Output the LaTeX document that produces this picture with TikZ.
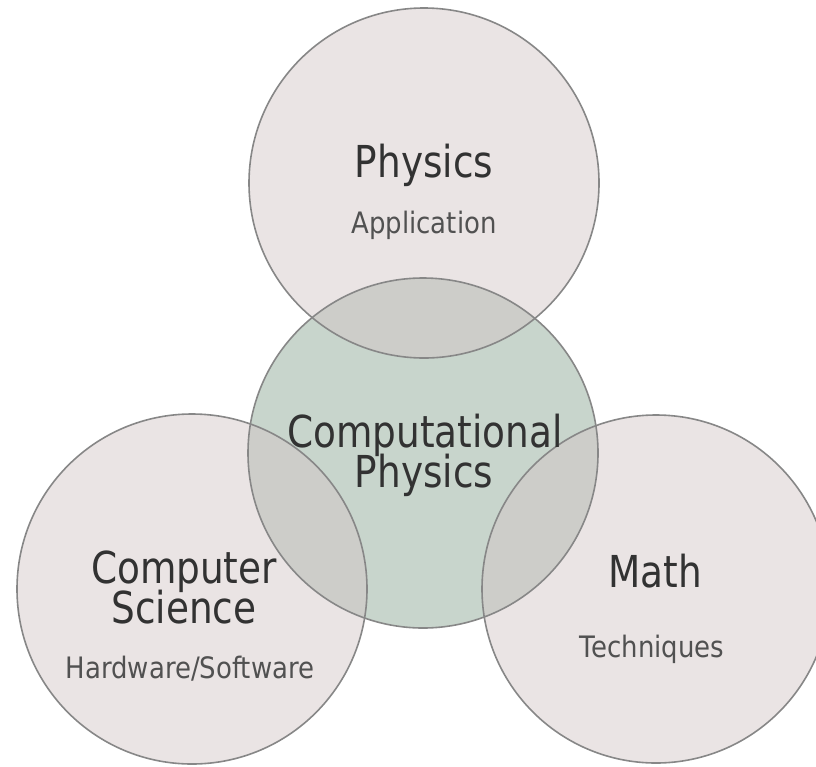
\documentclass[tikz,border=0pt]{standalone}
\usepackage{fontspec}
\newfontfamily\bigfont[FakeStretch=0.85]{DejaVu Sans}
\newfontfamily\smallfont[FakeStretch=0.88]{DejaVu Sans}
\definecolor{pinkfill}{RGB}{234,228,228}
\definecolor{greenfill}{RGB}{200,213,204}
\definecolor{lensfill}{RGB}{205,205,201}
\definecolor{edge}{RGB}{135,135,135}
\definecolor{txt}{RGB}{50,50,50}
\tikzset{
  outline/.style={draw=edge, line width=1.6pt},
  bigtext/.style={anchor=base, inner sep=0pt, text=txt, font=\bigfont\fontsize{44}{44}\selectfont},
  smalltext/.style={anchor=base, inner sep=0pt, text=txt!85, font=\smallfont\fontsize{29.5}{29.5}\selectfont}
}
\begin{document}
\begin{tikzpicture}[x=1pt,y=-1pt]
\useasboundingbox (0,0) rectangle (816,766);
\clip (0,0) rectangle (816,766);
\coordinate (P) at (424,183);
\coordinate (C) at (423,453);
\coordinate (S) at (192,589);
\coordinate (M) at (656,589);
% fills
\fill[pinkfill] (P) circle (175);
\fill[pinkfill] (S) circle (175);
\fill[pinkfill] (M) circle (174);
\fill[greenfill] (C) circle (175);
\begin{scope}
  \clip (C) circle (175);
  \fill[lensfill] (P) circle (175);
  \fill[lensfill] (S) circle (175);
  \fill[lensfill] (M) circle (174);
\end{scope}
% outlines
\draw[outline] (P) circle (175);
\draw[outline] (S) circle (175);
\draw[outline] (M) circle (174);
\draw[outline] (C) circle (175);
% texts
\node[bigtext] (phys) at (424,177) {Physics};
\node[smalltext] (app) at (424,233) {Application};
\node[bigtext] (cp1) at (425,447) {Computational};
\node[bigtext] (cp2) at (424,487) {Physics};
\node[bigtext] (cs1) at (184,583) {Computer};
\node[bigtext] (cs2) at (184,623) {Science};
\node[smalltext] (hw) at (190,678) {Hardware/Software};
\node[bigtext] (math) at (655,587) {Math};
\node[smalltext] (tech) at (652,657) {Techniques};
\end{tikzpicture}
\end{document}
